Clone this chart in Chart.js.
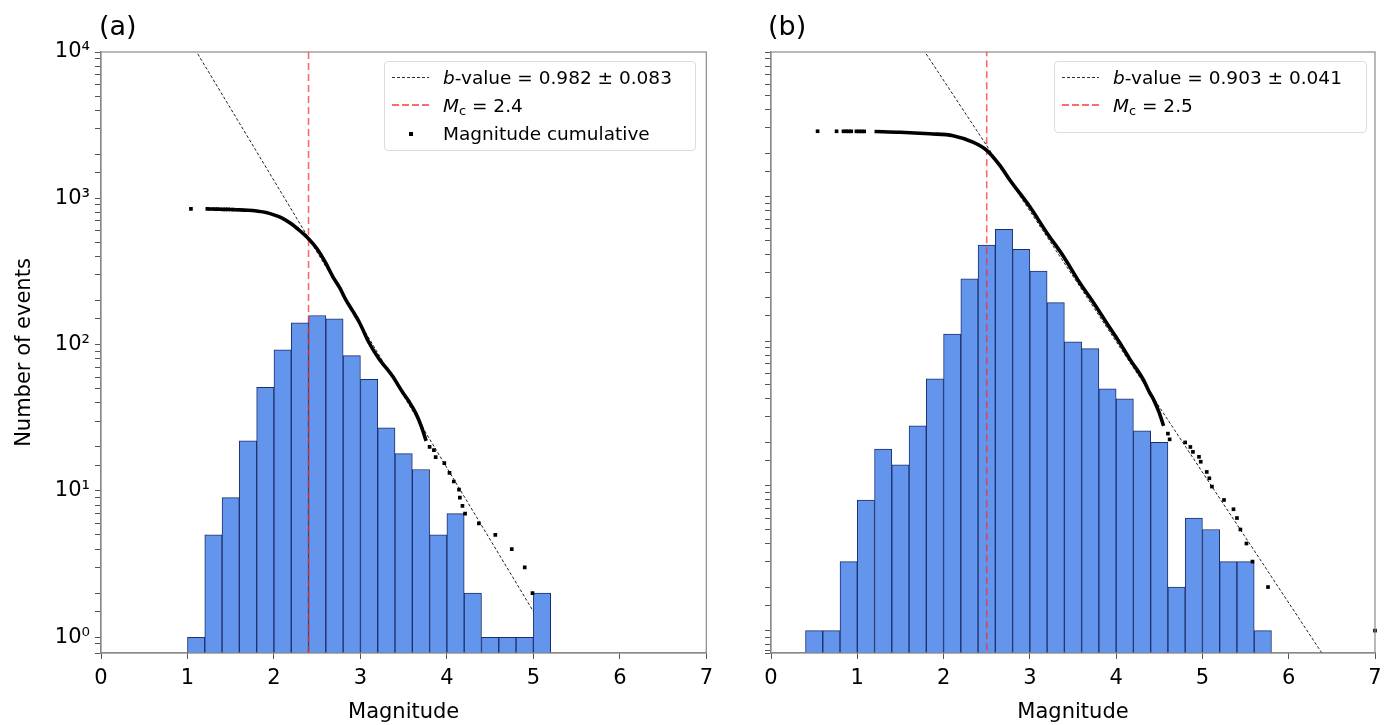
<!DOCTYPE html>
<html>
<head>
<meta charset="utf-8">
<script src="https://cdn.jsdelivr.net/npm/chart.js@4.4.0/dist/chart.umd.min.js"></script>
<style>
  body { margin: 0; background: #fff; font-family: "DejaVu Sans", sans-serif; color: #000; }
  #wrap { position: relative; width: 1396px; height: 725px; overflow: hidden; }
  .panel { position: absolute; top: 0; }
  .tag { position: absolute; top: 12px; font-size: 27px; line-height: 27px; }
  .legend { position: absolute; background: rgba(255,255,255,0.85); border: 1px solid #dcdcdc; border-radius: 4px; font-size: 18.5px; }
  .row { position: absolute; left: 0; height: 28px; width: 100%; }
  .sample { position: absolute; left: 7px; top: 13px; width: 37px; }
  .txt { position: absolute; left: 58px; top: 0; line-height: 28px; white-space: nowrap; }
  .dots { height: 1px; background: repeating-linear-gradient(90deg, #333 0 3px, transparent 3px 5px); }
  .redDash { height: 2px; top: 12px; background: repeating-linear-gradient(90deg, #ff6b6b 0 7px, transparent 7px 10px); }
  .sq { position: absolute; left: 24px; top: 12px; width: 4px; height: 4px; background: #000; }
  sub { font-size: 0.7em; vertical-align: -0.25em; line-height: 0; }
</style>
</head>
<body>
<div id="wrap">
  <div class="panel" style="left:0;width:720px;height:725px"><canvas id="chartA" width="720" height="725"></canvas></div>
  <div class="panel" style="left:720px;width:676px;height:725px"><canvas id="chartB" width="676" height="725"></canvas></div>

  <div class="tag" style="left:99px">(a)</div>
  <div class="tag" style="left:768px">(b)</div>

  <div class="legend" style="left:384px;top:61px;width:310px;height:88px">
    <div class="row" style="top:2px"><div class="sample dots"></div><div class="txt"><i>b</i>-value = 0.982 ± 0.083</div></div>
    <div class="row" style="top:30px"><div class="sample redDash"></div><div class="txt"><i>M</i><sub>c</sub> = 2.4</div></div>
    <div class="row" style="top:58px"><div class="sq"></div><div class="txt">Magnitude cumulative</div></div>
  </div>

  <div class="legend" style="left:1054px;top:61px;width:311px;height:70px">
    <div class="row" style="top:2px"><div class="sample dots"></div><div class="txt"><i>b</i>-value = 0.903 ± 0.041</div></div>
    <div class="row" style="top:30px"><div class="sample redDash"></div><div class="txt"><i>M</i><sub>c</sub> = 2.5</div></div>
  </div>
</div>

<script>
// 공통 축 범위
const magMin = 0, magMax = 7;
const yMinA = 0.78, yMaxA = 10000;
const yMinB = 0.73, yMaxB = 10000;

// (a) 히스토그램 (bin 폭 0.2, 중심값)
const binsA = [1.1, 1.3, 1.5, 1.7, 1.9, 2.1, 2.3, 2.5, 2.7, 2.9, 3.1, 3.3, 3.5, 3.7, 3.9, 4.1, 4.3, 4.5, 4.7, 4.9, 5.1];
const countsA = [1, 5, 9, 22, 51, 92, 141, 158, 150, 84, 58, 27, 18, 14, 5, 7, 2, 1, 1, 1, 2];

// (a) 누적 곡선 - 촘촘한 구간
const cumCurveMagA = [1.55, 1.70, 1.80, 1.91, 2.00, 2.10, 2.20, 2.30, 2.40, 2.50, 2.60, 2.68, 2.76, 2.83, 2.91, 2.99, 3.10, 3.22, 3.30, 3.37, 3.49, 3.56, 3.64, 3.70, 3.76];
const cumCurveNA = [836, 828, 818, 800, 770, 730, 670, 600, 530, 450, 360, 292, 245, 203, 170, 141, 103, 79, 69, 61, 47, 41, 34, 28, 22];
// (a) 누적 곡선 - 개별 점
const cumDotMagA = [1.04, 1.23, 1.26, 1.29, 1.32, 1.35, 1.38, 1.41, 1.44, 1.47, 1.50, 1.53, 3.80, 3.85, 3.87, 3.97, 4.03, 4.08, 4.14, 4.15, 4.18, 4.21, 4.37, 4.56, 4.75, 4.90, 4.99];
const cumDotNA = [847, 846, 845, 845, 844, 843, 842, 841, 840, 839, 838, 837, 20, 19, 17, 15.5, 13.3, 11.6, 10.2, 9, 7.9, 7, 6, 5, 4, 3, 2];

// (a) b-value 직선, Mc
const bLineMagA = [1.0, 5.0];
const bLineNA = [12700, 1.5];
const mcA = 2.4;

// (b) 히스토그램
const binsB = [0.5, 0.7, 0.9, 1.1, 1.3, 1.5, 1.7, 1.9, 2.1, 2.3, 2.5, 2.7, 2.9, 3.1, 3.3, 3.5, 3.7, 3.9, 4.1, 4.3, 4.5, 4.7, 4.9, 5.1, 5.3, 5.5, 5.7];
const countsB = [1, 1, 3, 8, 18, 14, 26, 55, 112, 270, 462, 595, 433, 306, 185, 99, 89, 47, 40, 24, 20, 2, 6, 5, 3, 3, 1];

// (b) 누적 곡선
const cumCurveMagB = [1.20, 1.50, 1.84, 2.11, 2.34, 2.50, 2.65, 2.77, 3.00, 3.20, 3.39, 3.58, 3.74, 3.89, 4.04, 4.16, 4.31, 4.39, 4.43, 4.50, 4.55];
const cumCurveNB = [2822, 2790, 2719, 2640, 2382, 2089, 1650, 1298, 851, 559, 386, 253, 184, 134, 98, 75, 55, 44, 40, 32, 26];
const cumDotMagB = [0.54, 0.76, 0.84, 0.87, 0.90, 0.93, 0.99, 1.02, 1.05, 1.08, 4.60, 4.62, 4.80, 4.86, 4.89, 4.96, 4.98, 5.05, 5.08, 5.11, 5.25, 5.36, 5.40, 5.44, 5.51, 5.58, 5.76, 7.0];
const cumDotNB = [2833, 2831, 2830, 2830, 2829, 2829, 2828, 2827, 2826, 2825, 23, 21, 20, 18.6, 17.2, 15.9, 14.7, 12.5, 11.3, 9.9, 8, 6.9, 6, 5, 4, 3, 2, 1];

// (b) b-value 직선, Mc
const bLineMagB = [1.0, 6.5];
const bLineNB = [51000, 0.55];
const mcB = 2.5;

const xyOf = (xs, ys) => xs.map((x, i) => ({ x: x, y: ys[i] }));
const supDigits = ['⁰', '¹', '²', '³', '⁴', '⁵'];

// 플롯 테두리 (네 방향 spine)
const framePlugin = {
  id: 'frame',
  afterDraw(chart) {
    const { ctx, chartArea: a } = chart;
    ctx.save();
    ctx.strokeStyle = '#8a8a8a';
    ctx.lineWidth = 1.2;
    ctx.strokeRect(a.left, a.top, a.right - a.left, a.bottom - a.top);
    ctx.restore();
  }
};

function makeChart(canvasId, cfg) {
  const ctx = document.getElementById(canvasId).getContext('2d');
  const datasets = [
    {
      type: 'line',
      data: xyOf(cfg.bMag, cfg.bN),
      borderColor: '#222',
      borderWidth: 1,
      borderDash: [3, 2],
      pointRadius: 0,
      clip: 0,
      order: 1
    },
    {
      type: 'line',
      data: xyOf([cfg.mc, cfg.mc], [cfg.yMin, cfg.yMax]),
      borderColor: 'rgba(255, 40, 40, 0.7)',
      borderWidth: 1.6,
      borderDash: [7, 4],
      pointRadius: 0,
      clip: 0,
      order: 2
    },
    {
      type: 'line',
      data: xyOf(cfg.curveMag, cfg.curveN),
      borderColor: '#000',
      borderWidth: 3.6,
      cubicInterpolationMode: 'monotone',
      pointRadius: 0,
      clip: 0,
      order: 0
    },
    {
      type: 'scatter',
      data: xyOf(cfg.dotMag, cfg.dotN),
      pointStyle: 'rect',
      pointRadius: 2.6,
      borderWidth: 0,
      backgroundColor: '#000',
      clip: 4,
      order: 0
    },
    {
      type: 'bar',
      data: xyOf(cfg.bins, cfg.counts),
      backgroundColor: '#6495ED',
      borderColor: '#1d2f6b',
      borderWidth: 1,
      barPercentage: 1,
      categoryPercentage: 1,
      order: 10
    }
  ];

  return new Chart(ctx, {
    type: 'bar',
    data: { datasets: datasets },
    plugins: [framePlugin],
    options: {
      responsive: false,
      animation: false,
      devicePixelRatio: 1,
      layout: { padding: { left: 0, top: 52, right: cfg.padRight, bottom: 0 } },
      plugins: { legend: { display: false }, tooltip: { enabled: false } },
      scales: {
        x: {
          type: 'linear',
          min: magMin,
          max: magMax,
          offset: false,
          afterFit: (s) => { s.height = 72; },
          border: { color: '#8a8a8a', width: 1.2 },
          grid: { offset: false, drawOnChartArea: false, tickLength: 6, tickColor: '#555' },
          ticks: { stepSize: 1, color: '#000', padding: 7, font: { family: 'DejaVu Sans', size: 21 } },
          title: {
            display: true,
            text: 'Magnitude',
            color: '#000',
            padding: { top: 0, bottom: 0 },
            font: { family: 'DejaVu Sans', size: 21 }
          }
        },
        y: {
          type: 'logarithmic',
          min: cfg.yMin,
          max: cfg.yMax,
          afterFit: (s) => { s.width = cfg.yWidth; },
          border: { color: '#8a8a8a', width: 1.2 },
          grid: { drawOnChartArea: false, tickLength: 6, tickColor: '#555' },
          ticks: {
            autoSkip: false,
            color: '#000',
            padding: 5,
            font: { family: 'DejaVu Sans', size: 21 },
            callback: (v) => {
              if (!cfg.showYLabels) return '';
              const e = Math.log10(v);
              if (Math.abs(e - Math.round(e)) > 1e-9) return '';
              return '10' + supDigits[Math.round(e)];
            }
          },
          title: {
            display: cfg.showYLabels,
            text: 'Number of events',
            color: '#000',
            padding: { top: 12, bottom: 0 },
            font: { family: 'DejaVu Sans', size: 21 }
          }
        }
      }
    }
  });
}

makeChart('chartA', {
  bins: binsA, counts: countsA,
  curveMag: cumCurveMagA, curveN: cumCurveNA,
  dotMag: cumDotMagA, dotN: cumDotNA,
  bMag: bLineMagA, bN: bLineNA,
  mc: mcA, yMin: yMinA, yMax: yMaxA,
  yWidth: 101, padRight: 12, showYLabels: true
});

makeChart('chartB', {
  bins: binsB, counts: countsB,
  curveMag: cumCurveMagB, curveN: cumCurveNB,
  dotMag: cumDotMagB, dotN: cumDotNB,
  bMag: bLineMagB, bN: bLineNB,
  mc: mcB, yMin: yMinB, yMax: yMaxB,
  yWidth: 51, padRight: 21, showYLabels: false
});
</script>
</body>
</html>
